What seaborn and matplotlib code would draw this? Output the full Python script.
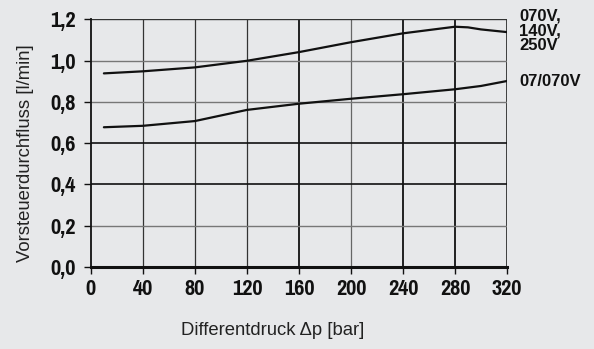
import matplotlib
matplotlib.use("Agg")
import matplotlib.pyplot as plt
import seaborn as sns
import pandas as pd

# Data
pressure_upper = [10, 40, 80, 120, 160, 200, 240, 270, 280, 290, 300, 320]
flow_upper = [0.938, 0.948, 0.967, 0.999, 1.041, 1.089, 1.132, 1.156, 1.164, 1.161, 1.151, 1.138]
pressure_lower = [10, 40, 80, 120, 160, 200, 240, 280, 300, 320]
flow_lower = [0.677, 0.684, 0.707, 0.761, 0.791, 0.815, 0.837, 0.861, 0.877, 0.901]
series_names = ["070V,\n140V,\n250V", "07/070V"]
x_ticks = [0, 40, 80, 120, 160, 200, 240, 280, 320]
y_ticks = [0.0, 0.2, 0.4, 0.6, 0.8, 1.0, 1.2]

bg = "#e7e8ea"
sns.set_theme(style="white")
plt.rcParams["font.family"] = ["Liberation Sans", "DejaVu Sans"]

df = pd.concat([
    pd.DataFrame({"p": pressure_upper, "q": flow_upper, "s": series_names[0]}),
    pd.DataFrame({"p": pressure_lower, "q": flow_lower, "s": series_names[1]}),
])

fig = plt.figure(figsize=(5.94, 3.49), dpi=100, facecolor=bg)
ax = fig.add_axes([0.153, 0.235, 0.7005, 0.7097])
ax.set_facecolor(bg)

sns.lineplot(data=df, x="p", y="q", hue="s", palette=["#111111", "#111111"],
             linewidth=1.6, legend=False, ax=ax, sort=False)

ax.set_xlim(0, 320)
ax.set_ylim(0, 1.2)
ax.set_xticks(x_ticks)
ax.set_yticks(y_ticks)

# gridlines with varied weights like the reference
vstyle = {40: ("#333333", 0.9), 80: ("#333333", 0.9), 120: ("#333333", 0.9),
          160: ("#111111", 1.3), 200: ("#666666", 0.9), 240: ("#111111", 1.3),
          280: ("#111111", 1.3), 320: ("#222222", 1.2)}
for xv, (c, lw) in vstyle.items():
    ax.axvline(xv, color=c, lw=lw, zorder=1)
hstyle = {0.2: ("#777777", 1.0), 0.4: ("#111111", 1.2), 0.6: ("#111111", 1.2),
          0.8: ("#777777", 1.0), 1.0: ("#777777", 1.0), 1.2: ("#333333", 1.0)}
for yv, (c, lw) in hstyle.items():
    ax.axhline(yv, color=c, lw=lw, zorder=1)

for s in ["top", "right"]:
    ax.spines[s].set_visible(False)
ax.spines["left"].set_color("#111111")
ax.spines["left"].set_linewidth(1.3)
ax.spines["bottom"].set_color("#111111")
ax.spines["bottom"].set_linewidth(2.2)

ax.tick_params(axis="both", direction="out", length=5, width=1.0, color="#111111",
               bottom=True, left=True, labelsize=17.5)
ax.tick_params(axis="x", pad=4)
ax.tick_params(axis="y", pad=6)
ax.set_xticklabels([str(v) for v in x_ticks])
ax.set_yticklabels([f"{v:.1f}".replace(".", ",") for v in y_ticks])
for lab in ax.get_xticklabels() + ax.get_yticklabels():
    lab.set_fontfamily(["Pragati Narrow", "Liberation Sans"])
    lab.set_fontweight("bold")
    lab.set_color("#111111")

ax.set_xlabel("Differentdruck \u0394p [bar]", fontsize=13.3, color="#222222")
ax.xaxis.label.set_va("center")
ax.xaxis.set_label_coords(0.4375, -0.258)
ax.set_ylabel("Vorsteuerdurchfluss [l/min]", fontsize=13.3, color="#222222")
ax.yaxis.label.set_va("center")
ax.yaxis.set_label_coords(-0.158, 0.46)

ax.text(1.03, 0.953, series_names[0], transform=ax.transAxes, ha="left", va="center",
        fontsize=12, fontweight="bold", color="#111111", linespacing=0.98)
ax.text(1.03, 0.75, series_names[1], transform=ax.transAxes, ha="left", va="center",
        fontsize=12, fontweight="bold", color="#111111")

fig.savefig("out.png", dpi=100, facecolor=bg)
